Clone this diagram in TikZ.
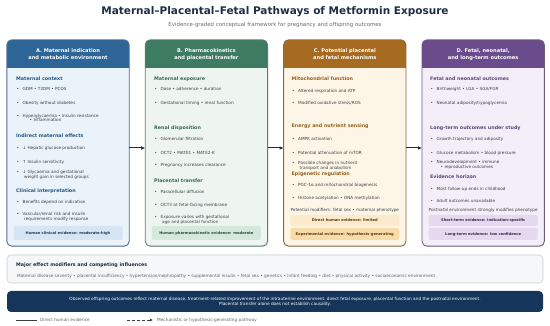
\documentclass[tikz,border=0pt]{standalone}
\usepackage{fontspec}
\setmainfont{DejaVu Sans}
\usetikzlibrary{positioning,arrows.meta,shadows}

\definecolor{hdA}{HTML}{2D6596}
\definecolor{bgA}{HTML}{EAF2FA}
\definecolor{evA}{HTML}{D6E5F3}
\definecolor{bdA}{HTML}{4F6F8F}
\definecolor{hdB}{HTML}{3D7C61}
\definecolor{bgB}{HTML}{EEF5F0}
\definecolor{evB}{HTML}{D5E9DB}
\definecolor{bdB}{HTML}{5A7F6C}
\definecolor{hdC}{HTML}{A66A20}
\definecolor{bgC}{HTML}{FDF6E7}
\definecolor{evC}{HTML}{FBEACB}
\definecolor{evCC}{HTML}{F8DCA8}
\definecolor{bdC}{HTML}{8A6A40}
\definecolor{hdD}{HTML}{6A4B8B}
\definecolor{bgD}{HTML}{F4EEF8}
\definecolor{evD}{HTML}{E5D9F0}
\definecolor{bdD}{HTML}{6E5E80}
\definecolor{ink}{HTML}{1F2D44}
\definecolor{txt}{HTML}{3A3F47}
\definecolor{navy}{HTML}{15355A}
\definecolor{modfill}{HTML}{F5F7F9}
\definecolor{modline}{HTML}{C9CED4}

\newcommand{\titlefnt}{\fontsize{10.5}{12}\selectfont\bfseries}
\newcommand{\subfnt}{\fontsize{5.4}{6}\selectfont}
\newcommand{\headfnt}{\fontsize{5.1}{7}\selectfont\bfseries}
\newcommand{\secfnt}{\fontsize{4.8}{5.6}\selectfont\bfseries}
\newcommand{\itemfnt}{\fontsize{4.2}{4.6}\selectfont}
\newcommand{\evfnt}{\fontsize{3.7}{4.4}\selectfont\bfseries}
\newcommand{\modfnt}{\fontsize{4.25}{4.8}\selectfont}
\newcommand{\sumfnt}{\fontsize{4.25}{5.3}\selectfont}

\begin{document}
\begin{tikzpicture}[
    x=1pt, y=-1pt,
    panel/.style={
        rounded corners=5pt,
        minimum width=122pt,
        minimum height=206pt,
        inner sep=0pt,
        drop shadow={shadow xshift=0.6pt, shadow yshift=-1pt, opacity=0.15}
    },
    panelframe/.style={rounded corners=5pt, line width=0.9pt},
    head/.style={align=center, text=white, font=\headfnt, inner sep=0pt},
    sec/.style={anchor=west, inner sep=0pt, font=\secfnt},
    itm/.style={anchor=west, inner sep=0pt, align=left, font=\itemfnt, text=txt},
    remark/.style={inner sep=0pt, font=\itemfnt, text=txt},
    ev/.style={
        rounded corners=2pt,
        minimum width=109pt,
        minimum height=14pt,
        inner sep=0pt,
        font=\evfnt
    },
    flow/.style={-{Latex[length=4pt,width=3.6pt]}, line width=1pt, draw=ink},
    legline/.style={line width=0.8pt, draw=txt}
]

\fill[white] (0,0) rectangle (550,326);
\useasboundingbox (0,0) rectangle (550,326);

% title
\node[font=\titlefnt, text=ink] (title) at (275,12)
{Maternal–Placental–Fetal Pathways of Metformin Exposure};
\node[font=\subfnt, text=gray!85!black] (subtitle) at (275,25)
{Evidence-graded conceptual framework for pregnancy and offspring outcomes};

% panels
\node[panel, fill=bgA] (pA) at (68,143) {};
\node[panel, fill=bgB, right=16pt of pA] (pB) {};
\node[panel, fill=bgC, right=16pt of pB] (pC) {};
\node[panel, fill=bgD, right=16pt of pC] (pD) {};

\begin{scope}
  \clip[rounded corners=5pt] (pA.north west) rectangle (pA.south east);
  \fill[hdA] (pA.north west) rectangle ([yshift=-28pt]pA.north east);
\end{scope}
\begin{scope}
  \clip[rounded corners=5pt] (pB.north west) rectangle (pB.south east);
  \fill[hdB] (pB.north west) rectangle ([yshift=-28pt]pB.north east);
\end{scope}
\begin{scope}
  \clip[rounded corners=5pt] (pC.north west) rectangle (pC.south east);
  \fill[hdC] (pC.north west) rectangle ([yshift=-28pt]pC.north east);
\end{scope}
\begin{scope}
  \clip[rounded corners=5pt] (pD.north west) rectangle (pD.south east);
  \fill[hdD] (pD.north west) rectangle ([yshift=-28pt]pD.north east);
\end{scope}

\draw[panelframe, draw=bdA] (pA.north west) rectangle (pA.south east);
\draw[panelframe, draw=bdB] (pB.north west) rectangle (pB.south east);
\draw[panelframe, draw=bdC] (pC.north west) rectangle (pC.south east);
\draw[panelframe, draw=bdD] (pD.north west) rectangle (pD.south east);

\node[head] (hA) at ([yshift=-14.5pt]pA.north) {A. Maternal indication\\and metabolic environment};
\node[head] (hB) at ([yshift=-14.5pt]pB.north) {B. Pharmacokinetics\\and placental transfer};
\node[head] (hC) at ([yshift=-14.5pt]pC.north) {C. Potential placental\\and fetal mechanisms};
\node[head] (hD) at ([yshift=-14.5pt]pD.north) {D. Fetal, neonatal,\\and long-term outcomes};

% panel A
\node[sec, text=hdA!85!black] (a1) at (16,79) {Maternal context};
\node[itm] (a2) at (16.5,89) {•\hspace{3.5pt}GDM • T2DM • PCOS};
\node[itm] (a3) at (16.5,103) {•\hspace{3.5pt}Obesity without diabetes};
\node[itm] (a4) at (16.5,118) {•\hspace{3.5pt}Hyperglycaemia • Insulin resistance\\\hspace{13pt}• Inflammation};
\node[sec, text=hdA!85!black] (a5) at (16,136) {Indirect maternal effects};
\node[itm] (a6) at (16.5,148) {•\hspace{3.5pt}↓ Hepatic glucose production};
\node[itm] (a7) at (16.5,162) {•\hspace{3.5pt}↑ Insulin sensitivity};
\node[itm] (a8) at (16.5,175) {•\hspace{3.5pt}↓ Glycaemia and gestational\\\hspace{7.5pt}weight gain in selected groups};
\node[sec, text=hdA!85!black] (a9) at (16,191) {Clinical interpretation};
\node[itm] (a10) at (16.5,202) {•\hspace{3.5pt}Benefits depend on indication};
\node[itm] (a11) at (16.5,217) {•\hspace{3.5pt}Vascular/renal risk and insulin\\\hspace{7.5pt}requirements modify response};
\node[ev, fill=evA, text=hdA!60!black] (evA1) at (68,233) {Human clinical evidence: moderate-high};

% panel B
\node[sec, text=hdB!85!black] (b1) at (154,79) {Maternal exposure};
\node[itm] (b2) at (154.5,89) {•\hspace{3.5pt}Dose • adherence • duration};
\node[itm] (b3) at (154.5,103) {•\hspace{3.5pt}Gestational timing • renal function};
\node[sec, text=hdB!85!black] (b4) at (154,128) {Renal disposition};
\node[itm] (b5) at (154.5,139) {•\hspace{3.5pt}Glomerular filtration};
\node[itm] (b6) at (154.5,153) {•\hspace{3.5pt}OCT2 • MATE1 • MATE2-K};
\node[itm] (b7) at (154.5,165) {•\hspace{3.5pt}Pregnancy increases clearance};
\node[sec, text=hdB!85!black] (b8) at (154,181) {Placental transfer};
\node[itm] (b9) at (154.5,192) {•\hspace{3.5pt}Paracellular diffusion};
\node[itm] (b10) at (154.5,205) {•\hspace{3.5pt}OCT3 at fetal-facing membrane};
\node[itm] (b11) at (154.5,220) {•\hspace{3.5pt}Exposure varies with gestational\\\hspace{7.5pt}age and placental function};
\node[ev, fill=evB, text=hdB!60!black] (evB1) at (pB.center |- 0,233) {Human pharmacokinetic evidence: moderate};

% panel C
\node[sec, text=hdC!90!black] (c1) at (291.5,79) {Mitochondrial function};
\node[itm] (c2) at (292,91) {•\hspace{3.5pt}Altered respiration and ATP};
\node[itm] (c3) at (292,103) {•\hspace{3.5pt}Modified oxidative stress/ROS};
\node[sec, text=hdC!90!black] (c4) at (291.5,126) {Energy and nutrient sensing};
\node[itm] (c5) at (292,139) {•\hspace{3.5pt}AMPK activation};
\node[itm] (c6) at (292,153) {•\hspace{3.5pt}Potential attenuation of mTOR};
\node[itm] (c7) at (292,166) {•\hspace{3.5pt}Possible changes in nutrient\\\hspace{7.5pt}transport and anabolism};
\node[sec, text=hdC!90!black] (c8) at (291.5,174.5) {Epigenetic regulation};
\node[itm] (c9) at (292,185) {•\hspace{3.5pt}PGC-1α and mitochondrial biogenesis};
\node[itm] (c10) at (292,198) {•\hspace{3.5pt}Histone acetylation • DNA methylation};
\node[remark] (c11) at (pC.center |- 0,210) {Potential modifiers: fetal sex • maternal phenotype};
\node[ev, fill=evC, minimum height=11pt, text=hdC!55!black] (evC1) at (pC.center |- 0,220.5) {Direct human evidence: limited};
\node[ev, fill=evCC, minimum height=12pt, text=hdC!55!black] (evC2) at (pC.center |- 0,234) {Experimental evidence: hypothesis-generating};

% panel D
\node[sec, text=hdD!90!black] (d1) at (430,79) {Fetal and neonatal outcomes};
\node[itm] (d2) at (430.5,89) {•\hspace{3.5pt}Birthweight • LGA • SGA/FGR};
\node[itm] (d3) at (430.5,103) {•\hspace{3.5pt}Neonatal adiposity/hypoglycemia};
\node[sec, text=hdD!90!black] (d4) at (430,128) {Long-term outcomes under study};
\node[itm] (d5) at (430.5,139) {•\hspace{3.5pt}Growth trajectory and adiposity};
\node[itm] (d6) at (430.5,153) {•\hspace{3.5pt}Glucose metabolism • blood pressure};
\node[itm] (d7) at (430.5,165) {•\hspace{3.5pt}Neurodevelopment • immune\\\hspace{10pt}• reproductive outcomes};
\node[sec, text=hdD!90!black] (d8) at (430,177) {Evidence horizon};
\node[itm] (d9) at (430.5,189) {•\hspace{3.5pt}Most follow-up ends in childhood};
\node[itm] (d10) at (430.5,201) {•\hspace{3.5pt}Adult outcomes unavailable};
\node[remark] (d11) at (pD.center |- 0,210) {Postnatal environment strongly modifies phenotype};
\node[ev, fill=evD, minimum height=11pt, text=hdD!55!black] (evD1) at (pD.center |- 0,220.5) {Short-term evidence: indication-specific};
\node[ev, fill=evD, minimum height=12pt, text=hdD!55!black] (evD2) at (pD.center |- 0,234) {Long-term evidence: low confidence};

% flow between panels
\draw[flow] ([yshift=-5pt]pA.east) -- ([yshift=-5pt]pB.west);
\draw[flow] ([yshift=-5pt]pB.east) -- ([yshift=-5pt]pC.west);
\draw[flow] ([yshift=-5pt]pC.east) -- ([yshift=-5pt]pD.west);

% modifiers
\node[draw=modline, fill=modfill, rounded corners=4pt, line width=0.6pt,
      minimum width=536pt, minimum height=28pt, inner sep=0pt] (mods) at (275,269) {};
\node[sec, text=ink, font=\fontsize{4.8}{5.6}\selectfont\bfseries] (modtitle) at (16,265)
{Major effect modifiers and competing influences};
\node[itm, font=\modfnt, text=txt!80!white] (modlist) at (17,276.5)
{Maternal disease severity • placental insufficiency • hypertension/nephropathy • supplemental insulin • fetal sex • genetics • infant feeding • diet • physical activity • socioeconomic environment};

% summary
\node[fill=navy, rounded corners=4pt, minimum width=536pt, minimum height=21pt,
      inner sep=0pt, text=white, align=center, font=\sumfnt] (summary) at (275,301.5)
{Observed offspring outcomes reflect maternal disease, treatment-related improvement of the intrauterine environment, direct fetal exposure, placental function and the postnatal environment.\\
Placental transfer alone does not establish causality.};

% legend
\coordinate (ls1) at (16,320);
\coordinate (ls2) at (37,320);
\draw[legline] (ls1) -- (ls2);
\node[itm, font=\modfnt, text=txt!80!white, right=3pt of ls2] (lt1) {Direct human evidence};
\coordinate (ld1) at (127,320);
\coordinate (ld2) at (153,320);
\draw[legline, dash pattern=on 3pt off 2pt, -{Latex[length=3pt,width=3pt]}] (ld1) -- (ld2);
\node[itm, font=\modfnt, text=txt!80!white, right=4pt of ld2] (lt2) {Mechanistic or hypothesis-generating pathway};

\end{tikzpicture}
\end{document}
